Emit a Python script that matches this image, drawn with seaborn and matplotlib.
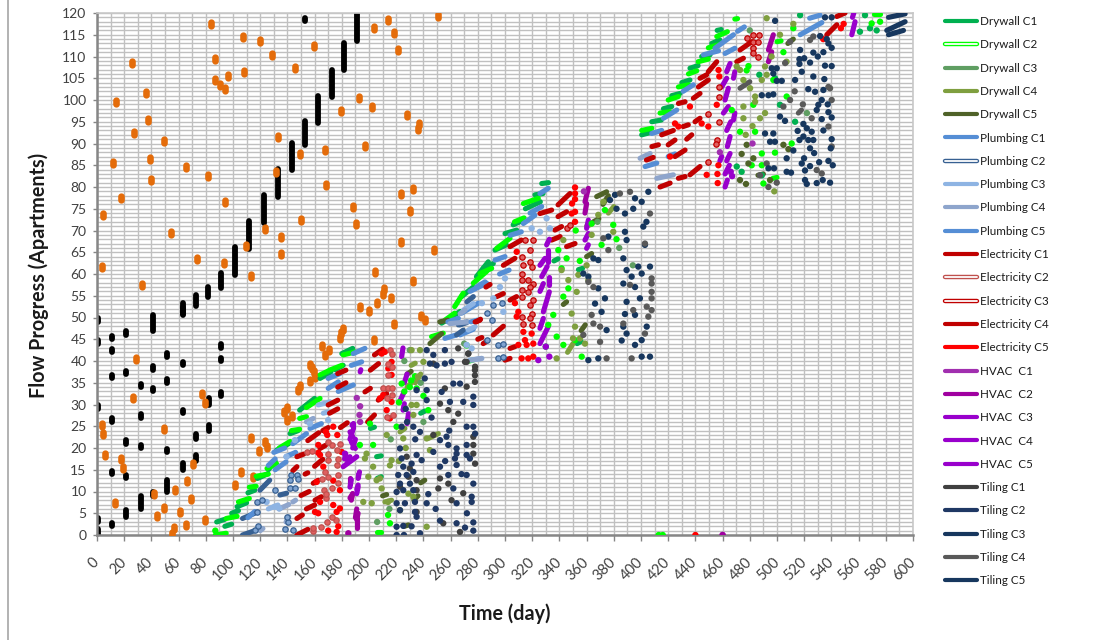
import numpy as np
import pandas as pd
import matplotlib
matplotlib.use("Agg")
import matplotlib.pyplot as plt
from matplotlib.lines import Line2D
from matplotlib.markers import MarkerStyle
from matplotlib.path import Path
from matplotlib.ticker import MultipleLocator
import matplotlib.patheffects as pe
import seaborn as sns

# orange single units (day, apartment)
orange_day = [83.9,25.5,86.8,107.2,119.9,128.7,159.6,203.7,213.7,145.6,108.4,96.4,86.6,90.7,93.9,36.1,13.8,192.9,202,179.1,
              37.8,27.5,133.4,49.1,197,167.7,149.3,39.3,11.8,65.7,81.9,131.7,39.5,168.2,17.7,94.2,188,4.7,150,190.4,
              54.7,123.8,135.1,109.6,135.1,73.3,93.2,3.7,113.3,204.6,32.9,211.3,210.5,205.6,216.2,193.6,199.7,181.1,179.1,178.7,
              203.4,250.5,218.4,221.3,228.2,237,236.2,232.1,223.5,230.4,223.8,247.5,232.3,238.2,241.2,218.1,
              3.5,4.4,5.7,13.3,17.4,19.1,28.7,26.5,49,41.7,43.9,49,56.4,55.4,57.1,61.3,65.5,66.2,69.4,70.6,
              77.2,79.4,79.2,101.5,105.9,114.5,113,118.9,123.8,124.8,137.8,139.5,140,143.6,147.6,149.3,
              156.6,157.8,156.6,159.8,160.3,165.2,167.6,170.6]
orange_apt = [117.5,108.4,109.4,114.5,113.5,110.4,112.4,116.5,118.5,107.4,106.5,105.5,104.5,103.5,102.5,101.5,99.5,100.5,98.5,97.5,
              95.5,92.5,91.5,90.5,89.5,88.4,87.5,86.5,85.5,84.5,82.5,83.5,81.5,80.5,77.5,76.5,75.5,73.5,72.5,71.5,
              69.5,70.4,68.4,66.4,64.5,63.5,62.5,61.5,59.5,60.5,57.5,56.5,55.4,53.4,54.4,52.4,51.4,47.4,46.4,45.4,
              44.8,119.3,115.5,111.5,96.5,94.5,93.3,79.5,78.5,74.5,67.4,65.5,58.5,50.4,49.4,48.4,
              25.4,23.3,18.4,7.4,17.4,15.3,40.4,31.4,24.3,9.4,4.3,6.3,1.5,0.2,10.3,5.3,2.4,12.4,8.3,16.4,
              32.4,30.4,3.4,11.4,14.4,13.4,22.4,19.4,21.4,20.3,28.3,29.3,26.4,27.4,33.4,34.2,
              35.4,38.3,39,37.5,36.4,43.4,41.4,42.5]

# black stacks (day, lowest apartment, highest apartment)
black_day = [0.5,0.5,0.5,0.5,0.5,11.3,11.3,11.3,11.3,11.3,11.3,21.3,21.3,21.3,21.3,21.3,32.1,32.1,32.1,32.1,
             41.4,41.4,41.4,41.4,51.5,51.5,51.5,51.5,63,63,63,63,72.6,72.6,82.1,82.1,91.2,91.2,91.2,
             153.2,191,181.7,172.6,162.3,153.2,143.2,132.9,123.1,112.1,101.3,91.2,81.9,72.6,63]
black_low = [49,44,29,3,0,45,42,36,26,14,2,46,37,21,13,4.2,34,27,20,6,47,38,33,9,41,35,19,10,
             50.5,39,28,15,22,17,30,24,43,40,32,118.2,113.5,107,100.8,94.6,89.7,83.8,77.6,71.8,65.7,59.8,56.7,54.8,52.7,50.7]
black_high = [49.8,44.8,29.8,3.8,1.4,45.8,42.8,36.8,26.8,14.8,2.8,46.8,37.8,21.8,13.8,5.8,34.8,27.8,20.8,9,
              50.5,38.8,33.8,9.8,41.8,35.8,19.8,12.6,52.5,39.8,28.8,16.5,23.3,18.5,31.4,25.3,43.8,40.8,32.8,
              118.8,120.5,113,107,101,95.2,90.2,84.2,78.2,72.2,66.1,60.2,57.1,55.2,53.3]

# each series: (day, apt) is a point, (day0, apt0, day1, apt1) a dash
drywall_c1 = [(88,3,94,3.6),(94,2,99,2.5),(99,5,104,5.6),(103,6.5,110,7.4),(111,9.7,116,10.3),(118,13,125,14),(126,15,131,17),
              (132,19.5,141,21),(142,23.3,148,24),(149,28.7,160,31.4),(164,36,172,37.5),(175,38,181,39),(180,41.7,188,42.9),
              (253.4,48.7,267,51.4),(268,54.8,276.7,57),(279,59.4,287.7,62.8),(284,61.3,291.4,62.4),(292.6,65.5,301,66.7),
              (300,69.3,308.6,70.1),(306,71.3,313.5,72.4),(315,75,326,76.6),(322,78.2,328,78.5),(327,80.8,332,81),
              (400.5,92,406.7,92.5),(407.9,95,415,95.4),(416.5,98,422.6,98.5),(422.6,101,428.7,101.5),(430,104,436,104.6),
              (436,107.3,442,107.9),(444.6,110,450.8,110.4),(452,113,458,113.8),(456,116,459,116.2),
              (205.6,18,209,18.2),(517,119.5),(564.7,119.5),(561,115.7),(568.4,116.5),(573.3,116),(470.4,84.7),(474,83.5),
              (488.8,82.7),(502.2,98.9),(513.3,95),(498.5,105),(487,105.8),(330,43.3),(201,24.5,204,24.8),(238,28,241,28.5),
              (336,63,339,63.5),(354,61,357,61.3),(353,44,356,44.5),(206,13,209,13.4)]
drywall_c2 = [(87,1),(87,0,95,0.4),(95,3.8,103,4.3),(104,7.6,112,8.4),(112,11,117,11.2),(117,13.5,126,14),(125,15.3,132,16.4),
              (134,20,142,21.5),(143,24,149,24.3),(149,26.8,154,27.2),(154,29.3,164,31.4),(164,36.8,170,37.7),(171,37.9,180,39),
              (181,41.4,190,42.1),(246,45.6,254.6,46.4),(255.9,49.4,263,51),(263,52.5,269.3,55.6),(276.7,57.9,286.5,60.6),
              (281.6,60.1,290.2,61.3),(293.9,65.9,303.7,68.2),(313.5,76.2,324.5,77.4),(307,72,314,72.9),
              (400.5,93,408,93.5),(414,97,421.4,97.3),(420,100,427.5,100.8),(427.5,103,435,103.5),(434.9,106,441,106.7),
              (442,108.8,449.5,109.4),(449.5,112,457,112.7),(455.7,114.6,463.5,115.7),(469,118.6,471,118.7),
              (205.6,0.7,209,0.7),(215.4,2.7),(214,4.6),(203,20.7),(193.3,20.7),(200.7,25.6),(220.3,24.9),(224,34.8),(235,33.7),
              (243.6,28.7),(233.8,36.5),(271.8,43.6),(274,40,277,40.3),(339.2,65.5),(345.3,63.6),(341.6,61.3),(346.6,56.7),
              (342.9,54.8),(335.5,50.6),(331.8,48.3),(338,45.6),(342.9,43.7),(356.4,41),(351.5,44.8),(363.7,71.6),(371,66.7),
              (373.5,74.7),(379.6,71.3),(512,116.5),(575.8,118),(569.6,117.6),(571,119.8,576,119.8),(507.1,100.8),(479,107.8),
              (477.7,106.8),(497.3,104.6),(466.7,97.7),(472.8,92.7),(483.9,92.7),(498.5,87.9),(488.8,87.7),(510.8,90),(481.4,85),
              (488.8,85),(497,82,500,82.2),(490,80.8),(500,113.4,503,113.6),(504.7,111),(482.6,98.9),(413,0),(416,0),
              (226,33),(230,34),(231,35.5),(222,30.5),(240,32),(352,70),(355,63),(382,68)]
drywall_c3 = [(230,42.5),(226,40),(270,44),(215,6),(240,26),(368,72),(384,66),(394,62),(480,116),(522,97),(216,22),(206,3),(238,35)]
drywall_c4 = [(197,17.6),(203,15.7),(199.5,13.4),(205.6,12.6),(209.3,10.7),(208,13),(195.8,7.6),(202,7.3),(214,7.6),(222.8,5.7),
              (215.4,16),(216.6,17.2),(198.2,18.7),(213,23),(225.2,22.2),(231.3,29.9),(235,29.9),(232.6,27.6),(236,36.4),
              (231.3,42.5),(237.5,42.5),(240,39.8),(229,9.5),(232.6,8.8),(242.4,1.9),(244.8,19.5),(242.4,22.2),
              (372.3,76.6),(368.6,73.6),(363.7,69),(342.9,67.8),(379.6,69.7),(353.9,59.8),(361.3,58.6),(346.6,58.6),(352.7,55.9),
              (349,50.9),(351.5,47.9),(338,40.6),(355.1,45.2),(358.8,44),(341.6,60.9),(350,45.2),
              (502.2,115),(492.4,118.8),(512,117.5),(507,108.8),(496,110),(472.8,106.9),(470.4,107.7),(475.3,104.6),(480.2,102.7),
              (483.9,100.8),(483.9,99.6),(475.3,98.5),(491.2,107.7),(492.4,105.8),(488.8,104.6),(491.2,97),(487.5,95.8),(475.3,95.8),
              (211.7,7.6,216.6,8),(222.8,23.7,226.4,24.5),(243.6,22.2,251,23.3),(228,34,233,35.5),(234,35,238,37),(231,39,234,39.5),
              (360,71,364,71.5),(376,74,380,75.5),(346,42,350,44),(222,17),(227,20),(360,62),(482,94),(477,92),(498,79)]
drywall_c5 = [(244.8,44,253.4,46.3),(252,49,258,49.4),(360,64,363.7,64.7),(342.9,53,345.3,53.6),(367.4,77.8,374.7,78.9),
              (477.7,89.7),(474,87.6),(482.6,86.6),(479,85.4),(472.8,81.6),(477.2,80.7),(494.9,81.6),(504.7,89.7),(508.4,88.7),
              (508,113,512,114),(486,82.7,490,83),(210,9,213,9.3),(226,2,229,2.3),(238,12,241,12.6),(233,8,236,9),(228,37,231,37.6),
              (365,72,369,72.7),(372,76,376,78),(356,47,359,48.3)]
plumbing_c1 = [(131,15,139,16.8),(139,18,146,19),(144,21,154,23.3),(156.6,24.5,165,25.6),(170,33.7,177.4,35.2),(177.4,33,188.5,34.5),
               (170,36,178.6,37.1),(187,39,194.6,39.8),(188.4,41.7,197,42.9),(258,49,265.7,49.8),(268.1,51,280.4,53.3),
               (274.2,56,286.5,57.9),(279,57,285.3,58.2),(292.6,63.2,300,64),(303.7,68.9,312,69.7),(313.5,71.6,322,73.5),
               (318.4,74,327,75.5),(325.7,78.5,331.8,79.7),(407.9,92.3,415.2,93),(416.5,95.8,426.3,97.7),(431,102,438.5,103.5),
               (445.9,110.4,457,111.3),(454.4,111.9,468,115),(461.8,110.7,469,111.9),(517,115,533,117.8),(524,118.8,531.7,119.5),
               (403,84.7,411.6,85.5),(255.8,45.2,264.4,46),(267,46,276.7,47.3)]
plumbing_c2 = [(107,0,116,1),(107,3.8,116,5),(119.8,10.3,127,12.6),(134.5,9.2,139.4,9.6),(264.4,46,269.3,47.1),(265.7,48.3,271.8,48.8),
               (267,48.3,272,49),(272,53.6,276.7,54.8),(116,1.1),(118.6,2),(140.7,3),(139.4,4.2),(138.2,1.3),(144.3,1.1),(117.4,5.3),
               (117.4,7.6),(121,8),(130.8,10.3),(141.9,10.7),(145.5,10.7),(143,13.8),(147.3,13.8),(141.9,12.6),(148,12.8),(286.5,44.8),
               (295,43.7),(298.8,44),(295,40.6),(298.8,41),(286.5,51),(291.4,52.9),(297.5,53.3),(290.2,49.4)]
plumbing_c3 = [(126,6,133,6.9),(162.7,29.9,171.3,30.6),(166.4,28,170,28.3),(273,47.1,278,47.9),(269.4,51.7,276.7,53.2),(274,40.2,283,40.6),
               (124.7,7.6),(130.8,6.5),(134,6.1),(139.4,18),(170,26.4),(145.5,21.8),(156.6,25.6),(275.5,42.9),(271.8,43.7),(300,59),
               (296.3,57),(291.4,54.4),(298.8,51.3),(330.6,72.8),(333,70.5),(325.7,69.7),(319.6,70.5),(283,53.3)]
plumbing_c4 = [(134,6,141,7),(154,26,159,26.8),(259.5,48.6,273,49),(267,50.9,270.6,51.7),(411.6,82,423.8,82.8),(399.3,86.6,406.7,87.7),
               (139,3,141,4.2),(144,7.6,146,8),(120,1,122,1.5),(275.5,40.2,282.8,40.6)]
plumbing_c5 = [(130,19,138,20),(126,16,131,17.5),(111,4,116,5.4),(275,49,280,49.4),(296,60,303,60.9),(420,87,425,87.6),(471,115.8,476,116.8)]
elec_c1 = [(147,0,155,1.3),(147,3.8,151,4.6),(150,9.1,156,10),(153,14,155,14.3),(144,14.8,147,15.7),(147,18,152,18.6),(160,15.8,166,17.4),
           (164,19.9,168,20.6),(155,21.7,163,23.5),(166,24,170,24.7),(179,24.7,184,25.8),(170,29.9,177,31),(171,28,177,29),
           (199,26,204,27.6),(177,37.1,183,37.9),(177,34,183,35),(197,32.9,201,33.7),(201,37.9,207,39.4),(204,41.4,210,42.7),(206.8,31,213,32.5),
           (279,49,282,49.6),(280,45,283,45.4),(286,57,289,57.6),(160.3,8,165,8.8),(159,11.9,162.7,12.6)]
elec_c2 = [(159,1),(159,1.7),(164.4,1.9),(168.8,3),(175.7,3.4),(172.5,4.2),(168.1,8.4),(166.9,10.3),(168.3,9.5),(172.5,10.7),(177.4,11.9),
           (165.2,12.8),(170,13.4),(167.6,14.5),(177.4,13.8),(170,17.2),(176.7,16.1),(177.4,17.4),(170,18.7),(176.2,19.5),(172.5,20.7),
           (178.6,20.9),(170,21.4),(154.6,19.1),(157.8,19.3),(210.5,33.7),(214.2,33.7),(216.6,33.7),(213,31.4),(216.6,32.2),(213,27.2),
           (217.9,27.6),(214.2,39.4),(216.6,38.7),(214.2,36.8),(215.4,42.5),(216.6,41.7)]
elec_c3 = [(345.3,70.5),(347.8,71.3),(314.7,67.8),(320.3,67.8),(318.4,65.5),(312.2,64),(318.4,62.8),(313.5,62),(319.6,61.7),(312.2,60.1),
           (312.2,58.6),(317.1,58.6),(320.8,57.8),(318.4,57),(312.2,56.3),(317.1,55.9),(312.2,54.8),(320.8,54),(318.4,52.9),(319.6,50.9),
           (312.2,50.2),(318.4,49.8),(313.5,48.6),(319.6,48.3),(477.7,114.2),(482.6,115),(487,115),(482.6,113.4),(486.3,113.4),(482.6,111.9),
           (482.6,110.7),(486.3,110),(457,102.9),(457.4,100.8),(449.5,96.8),(457,95),(455.7,90.8),(455.2,90),(449.5,85.7)]
elec_c4 = [(154,6,160,6.9),(339,75.9,347.8,78.5),(339,73.2,345.3,74.3),(336.7,70.1,341.6,70.9),(325.7,73.9,334.3,74.7),(303.7,66.3,312,67.8),
           (298.8,62,307.3,63.6),(293.9,54.8,298.8,55.5),(303.7,54,308.5,54.8),(278,49,281.6,49.4),(291.4,46,298.8,48),(284,44,286.5,44.5),
           (303.7,42.9,307.3,43.3),(300,40.2,303.7,40.6),(334.3,67.8,340.5,68.6),(345.3,66.3,351.5,67),(414,80,421.4,80.9),(427.5,82,432.4,82.4),
           (436,82.8,443.4,84.7),(425,87,432.4,88.5),(404,86.2,409,86.8),(408,89.3,412.8,89.7),(420,89.7,425,90.8),(415.2,92,423.8,93),
           (433.6,91,437.3,92),(431,93.9,434.8,94.3),(439.7,95,443.4,95.8),(427.5,99.2,432.4,99.6),(438.5,100.4,443.4,101.5),(442.2,103,449.5,104.6),
           (443.4,105,448.3,105.8),(449.5,106.5,455.7,108.8),(470.4,108.8,475.3,109.6),(472.8,111.5,481.4,113.4),(536.6,115,544,117.3),(544,119.2,550,120)]
elec_c5 = [(170,1),(176.2,0.7),(177.4,2),(160.3,5.3),(162.7,5),(176.2,5.3),(164,7.6),(173.7,6.9),(178.6,6.1),(178.6,10.3),(161.5,12.2),(173.7,12.5),
           (166.4,15.7),(164,18.4),(162.7,18.9),(179.9,19.1),(162.7,20.7),(176.7,23),(173.7,24.9),(168.3,23.7),(169.3,23),(208,31.4),(210.5,32.2),
           (216.6,30.6),(215.4,26.8),(213,28.7),(216.6,39.8),(214.2,38.3),(216.6,36.8),(211.7,42.1),(209.3,41.7),
           (351.5,79.9),(351.5,78.5),(351.5,77.2),(349.3,76.2),(351.5,74.3),(349,73.9),(351.5,72),(308.6,65.1),(307.3,53.3),(309.8,51.3),(308.6,50.2),
           (313.5,46.7),(319.6,46.3),(314.7,44.8),(320.8,44),(309.8,43.7),(315.9,43.7),(312.2,40.6),(317.1,40.6),(320.8,41),
           (457,106.9),(457.6,105.4),(455.7,98.9),(444.6,94.6),(449.5,93.9),(456.9,85),(456.2,83),(448.3,82.8),(456.4,80.9),(436,98.5),(427.5,93.9),
           (425,94.6),(421.4,87),(534,114),(547,116.5),(549,117.5),(440,0)]
hvac_c1 = [(193,27.6),(193.5,29.6),(193.5,26),(191,31.5),(358,79),(482,90),(458,88),(460,0)]
hvac_c2 = [(184.8,0.4),(191,1.5,191,3.8),(187,8,188,9.5),(186,11.8,186,13),(358.8,76.6,361.3,79.7),(358.8,74,360,76.2),(493.7,108.8,496.1,111.1),
           (493.7,111.5,497.3,115),(191,3.5,192,5),(190,4,191,6),(186,8.5,188,9.5),(460,0)]
hvac_c3 = [(191,10.5,192,11.5),(192,13.4,192,14),(181,15.7,191,18),(182.3,18.7),(187,21.4,190,19.9),(186,23.7,188,22.6),(188,25.3),
           (360,70.5,361.3,72.4),(358.8,67.8,361.3,69.3),(360,65.9,361.3,66.7),(555,115,557.4,118),(555.5,119,556.5,120),
           (191,9.5,192,11),(186,11,187,12.7),(192,13,193,14.5),(184,16.5,186,18),(188,20,190,22),(186,22,188,24),(188,24.5,188,25.8),(182,17.5,183,18.5)]
hvac_c4 = [(193.5,37.5,194,38),(224,41,225,43),(226,35,228,37),(223,31,226,33),(225,28.7,226,30.2),(228,25.6,229,27.9),
           (330.6,66.7,332.6,68),(325.7,62,329.4,63.6),(331.8,62.8,331.8,65.5),(327,59.4,331,61.7),(325.7,56,328.2,57.8),(332,57.5,332,59.4),
           (328.2,51.3,332.6,55.9),(325.7,47.5,328.2,49.8),(325.7,44,331.8,47.9),(330,43.3),(324.5,40.2),(332.6,41)]
hvac_c5 = [(463,106.5,465.5,108.4),(468,105,469,106.5),(459.3,103,463,105),(461.8,100,464.2,102.7),(460.6,97,464.2,98.5),(468,95.4,469,97),
           (463,93,466,95),(463.5,89.3,465.5,91.6),(458,86,459.3,87),(463,86,465.5,87.7),(461.8,83,465,85),(461.8,80,463.5,81.6),(467,82.5),(466,83.5)]
tiling_c1 = [(265.6,42.9),(273,41.7),(271.8,39.8),(277.9,37.9),(277.9,36.7),(277.9,35.2),(271.8,34.1),(255.8,33.7),(247.3,39.4),(252.2,30.2),
             (258.3,28.7),(265.6,27.9),(262,26),(247.3,23),(276.7,22.6),(276.7,20.7),(276.7,18.7),(278,16.4),(252.2,13),(251,10.7),(258.3,11.8),
             (269.3,9.6),(260.7,8),(254.6,2.7),(266.9,0.7),(222.8,11.1),(229,13.4),(235,12.6),(235,10.3),(227.7,18),(230,15.3),(235,5.3),
             (273,41.7),(270.6,39.8),(278,38.7)]
tiling_c2 = [(220.3,1.9),(225.2,2.1),(231.3,2),(237.5,0.4),(220.3,0),(225.7,0),(252.2,3.3),(270.6,1.7),(276.7,1),(276.7,2.9),(264.4,2.7),(222.8,5.7),
             (233.8,5.3),(242.4,7.3),(233.8,7.6),(226.4,7.3),(220.3,7.3),(235,4.2),(225.2,10.3),(230.1,11.8),(232.6,10.3),(222.8,11.8),(220.3,9.9),
             (243.6,9.4),(264.4,7.3),(275.5,7.6),(262,10.7),(275.5,8.8),(276.7,11.8),(271.8,13.8),(258.3,13.8),(252.2,15.7),(264.4,16.1),(274.2,17.6),
             (271.8,18.4),(263.2,17.6),(264.4,18.7),(231.3,16.4),(225.2,15.7),(224,17.6),(232.6,14.5),(222.8,19.9),(235,18.4),(238.7,17.2),(221.5,13.8),
             (227.7,13.8),(224,24.9),(232.6,24.9),(237.5,23.7),(252.2,21.8),(257,22.6),(247.3,19.1),(258.3,20.7),(264.4,19.9),(271.8,24.9),(276.7,24.9),
             (269.3,30.6),(276.7,31.8),(276.7,29.9),(259.5,30.6),(253.4,32.9),(242.4,31),(235,33.3),(242.4,33.3),(247.3,41.4),(255.8,42.5),(242.4,42.5),
             (244.8,39.4),(255.8,39.4),(260.7,39.8),(249.7,39),(262,34.8),(266.9,34.8),(278,23.3),(271.8,20.7),(228,26),(234,22),(227,29),(241,36),(246,27),
             (256,17),(268,14),(249,6),(272,5),(259,24)]
tiling_c3 = [(377.2,77),(380.9,78.2),(382,75),(388.2,73.9),(395.6,77.4),(405.4,78.9),(400.5,76.6),(394.3,75),(404,72),(401.7,70.9),(388.2,69.7),(376,68.6),
             (389.4,67.8),(365,63.6),(368.6,63.2),(387,63.6),(402.9,66.7),(389.4,60.9),(398,61.7),(406.6,61.7),(357.6,60.1),(361.3,59.4),(393.1,59.4),
             (400.5,60.1),(368.6,56.7),(387,57.8),(395.6,57),(373.5,54.4),(389.4,53.6),(399.2,54.4),(366.2,53.2),(371,51.3),(388.2,50.8),(395.6,50.6),
             (374.7,47.1),(387,47.9),(404.2,47.9),(368.6,40.6),(361.3,40.2),(400.5,41),(406.6,41),(385.8,44.7),(395.6,43.7),(400.5,44.8),(389.4,46.3)]
tiling_c4 = [(391.9,78.9),(384.5,78.5),(406.6,73.9),(402.9,67),(407.8,57.8),(407.8,59),(407.8,55.9),(407.8,54.4),(391.9,57.5),(404.2,52.5),(407.8,51.7),
             (394.3,51.7),(387,48.6),(402.9,46.3),(369.9,44.4),(365,48.6),(363.7,50.6),(357.6,46),(374.7,40.6),(393.1,40.6),(369.9,47.9),(405.4,50.2),
             (361.3,58.2),(365,57),(372.3,68.2),(376,65.5),(472.8,102.7,480,104.2),(515.7,97,518,97.7),(487.5,82.7),(493.7,80),(504.7,98.5),(509.6,100),
             (492.4,85.4),(524.3,113.8),(526.7,114.6),(539,102.7),(540.2,100),(537.8,93.9),(540.2,89.3),(537.8,103),(525.5,95.8),(529.2,83.9),(509.6,113.4),
             (499.8,81),(532.9,83.1),(506,108.5),(513,102),(519,99)]
tiling_c5 = [(535.3,119),(540.2,119),(498.6,118.2),(531.7,114.7),(536.6,114),(537.8,113),(540.2,112),(517,111.5),(520,109.6),(516.5,109.4),(526.7,110.9),
             (534.1,111),(530,110),(516.5,108.3),(524.3,108.6),(535.3,107.9),(540.2,107.8),(518.2,106.5),(526.7,105.4),(534.8,104.8),(513.3,104.6),(523,102.5),
             (528,101.9),(534.1,102.3),(496.1,107.3),(499.8,107.3),(497.3,106.1),(503.5,104.4),(499.8,104.4),(488.8,101.1),(493.7,101.1),(497.3,101.3),
             (532.9,100),(530.4,98.9),(537.3,99),(529.2,97.7),(537.8,97.2),(540.2,96),(502.2,96.2),(505.9,95.2),(491.2,92.3),(497.3,92.3),(519.4,94.5),
             (521.9,93.5),(532.9,95.6),(515.2,92.9),(525.5,92.7),(519.4,91.6),(516.5,90.8),(526.7,90.8),(523,90.8),(494.9,90.4),(498.5,90.4),(534.1,93),
             (540.2,91),(539.5,88.9),(512,88.4),(524.3,88.9),(527.3,87.8),(507.1,86.6),(519.9,86.6),(518.2,85.4),(524.3,84.8),(531,85.7),(537.8,86),(541,85),
             (520.6,83.8),(493.7,84.3),(497.8,84.3),(507.1,83.5),(510.3,83.3),(520.6,81.6),(521.9,80.7),(529.2,80.9),(533.6,81.6),(539,81),
             (582,119,594.2,119.8),(580.7,116,594.2,118),(582,115,593,116)]

series_names = ["Drywall C1","Drywall C2","Drywall C3","Drywall C4","Drywall C5",
                "Plumbing C1","Plumbing C2","Plumbing C3","Plumbing C4","Plumbing C5",
                "Electricity C1","Electricity C2","Electricity C3","Electricity C4","Electricity C5",
                "HVAC  C1","HVAC  C2","HVAC  C3","HVAC  C4","HVAC  C5",
                "Tiling C1","Tiling C2","Tiling C3","Tiling C4","Tiling C5"]
series_data = [drywall_c1,drywall_c2,drywall_c3,drywall_c4,drywall_c5,
               plumbing_c1,plumbing_c2,plumbing_c3,plumbing_c4,plumbing_c5,
               elec_c1,elec_c2,elec_c3,elec_c4,elec_c5,
               hvac_c1,hvac_c2,hvac_c3,hvac_c4,hvac_c5,
               tiling_c1,tiling_c2,tiling_c3,tiling_c4,tiling_c5]
series_colors = ["#00B050","#00FF00","#5F9E62","#7F9F3F","#4F6228",
                 "#558ED5","#376092","#8EB4E3","#8EA5CC","#558ED5",
                 "#C00000","#C0504D","#C00000","#C00000","#FF0000",
                 "#A12FAF","#A000A0","#9900CC","#9900CC","#9900CC",
                 "#404040","#1F3864","#17375E","#595959","#17375E"]
hollow = ["Plumbing C2","Electricity C2","Electricity C3"]
palette = dict(zip(series_names, series_colors))

rows_dash, rows_dot = [], []
for name, items in zip(series_names, series_data):
    for n, it in enumerate(items):
        if len(it) == 4:
            rows_dash.append((name, n, it[0], it[1]))
            rows_dash.append((name, n, it[2], it[3]))
        else:
            rows_dot.append((name, it[0], it[1]))
df_dash = pd.DataFrame(rows_dash, columns=["series","seg","day","apt"])
df_dot = pd.DataFrame(rows_dot, columns=["series","day","apt"])

df_orange = pd.DataFrame({"day": orange_day, "apt": orange_apt})
df_black = pd.DataFrame({"seg": list(range(len(black_day))) * 2,
                         "day": black_day + black_day,
                         "apt": black_low + black_high})

sns.set_theme(style="white")
plt.rcParams["font.family"] = ["Lato", "DejaVu Sans"]

fig = plt.figure(figsize=(10.98, 6.4), dpi=100)
ax = fig.add_axes([97/1098, (640-535)/640, (913-97)/1098, (535-13)/640])

# capsule shape for the orange marks
t = np.linspace(0, np.pi, 16)
cap_x = np.r_[np.cos(t), np.cos(t + np.pi)]
cap_y = np.r_[np.sin(t) + 0.55, np.sin(t + np.pi) - 0.55]
capsule = MarkerStyle(Path(np.c_[cap_x, cap_y], closed=False))

sns.lineplot(data=df_black, x="day", y="apt", units="seg", estimator=None, sort=False, color="black",
             lw=4.2, solid_capstyle="round", ax=ax, zorder=2, legend=False)
sns.scatterplot(data=df_orange, x="day", y="apt", marker=capsule, s=54, color="#E46C0A", linewidth=0, ax=ax, zorder=3, legend=False)
sns.lineplot(data=df_dash, x="day", y="apt", hue="series", hue_order=series_names, palette=palette, units="seg",
             estimator=None, sort=False, lw=3.7, solid_capstyle="round", ax=ax, zorder=4, legend=False)
sns.scatterplot(data=df_dot[~df_dot["series"].isin(hollow)], x="day", y="apt", hue="series", palette=palette,
                s=21, linewidth=0, ax=ax, zorder=5, legend=False)
for name in hollow:
    fill = "#E06060" if "Elec" in name else "#7FA3D0"
    sns.scatterplot(data=df_dot[df_dot["series"] == name], x="day", y="apt", s=15, color=fill,
                    edgecolor=palette[name], linewidth=0.9, ax=ax, zorder=5, legend=False)

ax.set_xlim(0, 600)
ax.set_ylim(0, 120)
ax.xaxis.set_major_locator(MultipleLocator(20))
ax.xaxis.set_minor_locator(MultipleLocator(10))
ax.yaxis.set_major_locator(MultipleLocator(5))
ax.yaxis.set_minor_locator(MultipleLocator(1))
ax.grid(True, which="both", color="#C0C0C0", lw=1.0)
ax.set_axisbelow(True)
for side in ["top", "right"]:
    ax.spines[side].set_color("#C8C8C8")
    ax.spines[side].set_linewidth(1.2)
for side in ["left", "bottom"]:
    ax.spines[side].set_color("#868686")
    ax.spines[side].set_linewidth(1.8)
ax.tick_params(axis="x", which="major", length=4, width=1, color="#868686", bottom=True, labelsize=10.5, labelcolor="#404040", pad=14)
ax.tick_params(axis="y", which="major", length=3, width=1, color="#868686", left=True, labelsize=10, labelcolor="#404040", pad=4.5)
ax.tick_params(which="minor", length=0)
plt.setp(ax.get_xticklabels(), rotation=45, ha="right", va="center", rotation_mode="anchor")
ax.set_xlabel("Time (day)", fontsize=14.2, fontweight="bold", color="#1a1a1a")
ax.set_ylabel("Flow Progress (Apartments)", fontsize=14.2, fontweight="bold", color="#1a1a1a")
ax.xaxis.set_label_coords(0.5, -(603-535)/522)
ax.yaxis.set_label_coords(-(97-49)/816, 0.498)

handles = []
for name, col in zip(series_names, series_colors):
    if name in ["Drywall C2", "Plumbing C2", "Electricity C2", "Electricity C3"]:
        h = Line2D([], [], color="white", lw=1.3, label=name, solid_capstyle="round",
                   path_effects=[pe.withStroke(linewidth=3.2, foreground=col)])
    else:
        h = Line2D([], [], color=col, lw=3, label=name, solid_capstyle="round")
    handles.append(h)
leg = ax.legend(handles=handles, loc="upper left", bbox_to_anchor=(945/1098, (640-16)/640), bbox_transform=fig.transFigure,
                frameon=False, fontsize=8.4, handlelength=2.74, handletextpad=0.25, labelspacing=1.055, borderpad=0, borderaxespad=0)
for txt in leg.get_texts():
    txt.set_color("#1a1a1a")

fig.add_artist(Line2D([8/1098, 8/1098], [0, 1], color="#A6A6A6", lw=1.2))

fig.savefig("out.png", dpi=100)
